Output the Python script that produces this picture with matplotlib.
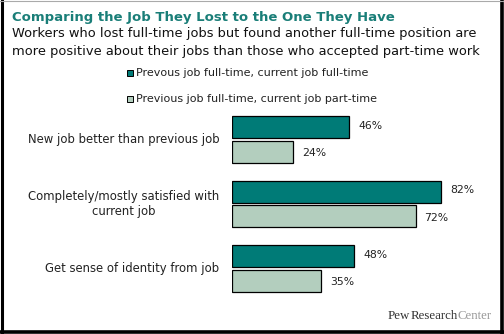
import matplotlib
matplotlib.use("Agg")
import matplotlib.pyplot as plt
from matplotlib.patches import Rectangle
from matplotlib.lines import Line2D

W, H = 504, 334

categories = ["New job better than previous job",
              "Completely/mostly satisfied with\ncurrent job",
              "Get sense of identity from job"]
full_full = [46, 82, 48]
full_part = [24, 72, 35]
series_names = ["Prevous job full-time, current job full-time",
                "Previous job full-time, current job part-time"]

dark = "#007b77"
light = "#b3cebe"
teal_title = "#1a7e78"


def fx(px):
    return px / W


def fy(py):
    return 1 - py / H


fig = plt.figure(figsize=(W / 100, H / 100), dpi=100)
fig.patch.set_facecolor("white")

# axes placed in pixel terms
left, right = 232, 487
top, bottom = 107, 301
ax = fig.add_axes([fx(left), fy(bottom), fx(right - left), (bottom - top) / H])
ax.set_xlim(0, 100)
ax.set_ylim(2.5, -0.5)
ax.axis("off")

bh = 0.34
off = 0.193
ypos = list(range(len(categories)))
ax.barh([y - off for y in ypos], full_full, height=bh, color=dark,
        edgecolor="black", linewidth=0.9)
ax.barh([y + off for y in ypos], full_part, height=bh, color=light,
        edgecolor="black", linewidth=0.9)

for y, v in zip(ypos, full_full):
    ax.text(v + 3.5, y - off - 0.02, f"{v}%", va="center", ha="left",
            fontsize=7.8, color="#222222")
for y, v in zip(ypos, full_part):
    ax.text(v + 3.5, y + off + 0.02, f"{v}%", va="center", ha="left",
            fontsize=7.8, color="#222222")

for y, c in zip(ypos, categories):
    ax.text(-5, y, c, ha="right", va="center", multialignment="center",
            fontsize=8.4, color="#222222", linespacing=1.2)

# title and subtitle
fig.text(fx(12), fy(17), "Comparing the Job They Lost to the One They Have",
         fontsize=9.5, fontweight="bold", color=teal_title, va="center")
fig.text(fx(12), fy(34), "Workers who lost full-time jobs but found another full-time position are",
         fontsize=9.4, color="#111111", va="center")
fig.text(fx(12), fy(52), "more positive about their jobs than those who accepted part-time work",
         fontsize=9.4, color="#111111", va="center")

# legend
for row, (name, col) in enumerate(zip(series_names, [dark, light])):
    yc = 73 + row * 26
    fig.patches.append(Rectangle((fx(127), fy(yc + 3)), 6 / W, 6 / H,
                                 transform=fig.transFigure, facecolor=col,
                                 edgecolor="black", linewidth=0.7))
    fig.text(fx(136), fy(yc), name, fontsize=8.0, color="#222222", va="center")

# Pew logo
logo_font = "Liberation Serif"
t1 = fig.text(fx(388), fy(316), "Pew", fontsize=9.3, family=logo_font,
              color="#333333", va="center")
t2 = fig.text(0, 0, "Research", fontsize=9.3, family=logo_font,
              color="#333333", va="center")
t3 = fig.text(0, 0, "Center", fontsize=9.3, family=logo_font,
              color="#999999", va="center")
fig.canvas.draw()
r = fig.canvas.get_renderer()
bb = t1.get_window_extent(r)
t2.set_position((bb.x1 / W, fy(316)))
bb = t2.get_window_extent(r)
t3.set_position((bb.x1 / W, fy(316)))

# frame
fig.add_artist(Line2D([fx(1.5), fx(1.5)], [0, 1], color="black", lw=2.2))
fig.add_artist(Line2D([fx(W - 2), fx(W - 2)], [0, 1], color="black", lw=2.6))
fig.add_artist(Line2D([0, 1], [fy(H - 2), fy(H - 2)], color="black", lw=2.6))
fig.add_artist(Line2D([0, 1], [fy(0.5), fy(0.5)], color="#aaaaaa", lw=0.8))

fig.savefig("out.png", dpi=100)
